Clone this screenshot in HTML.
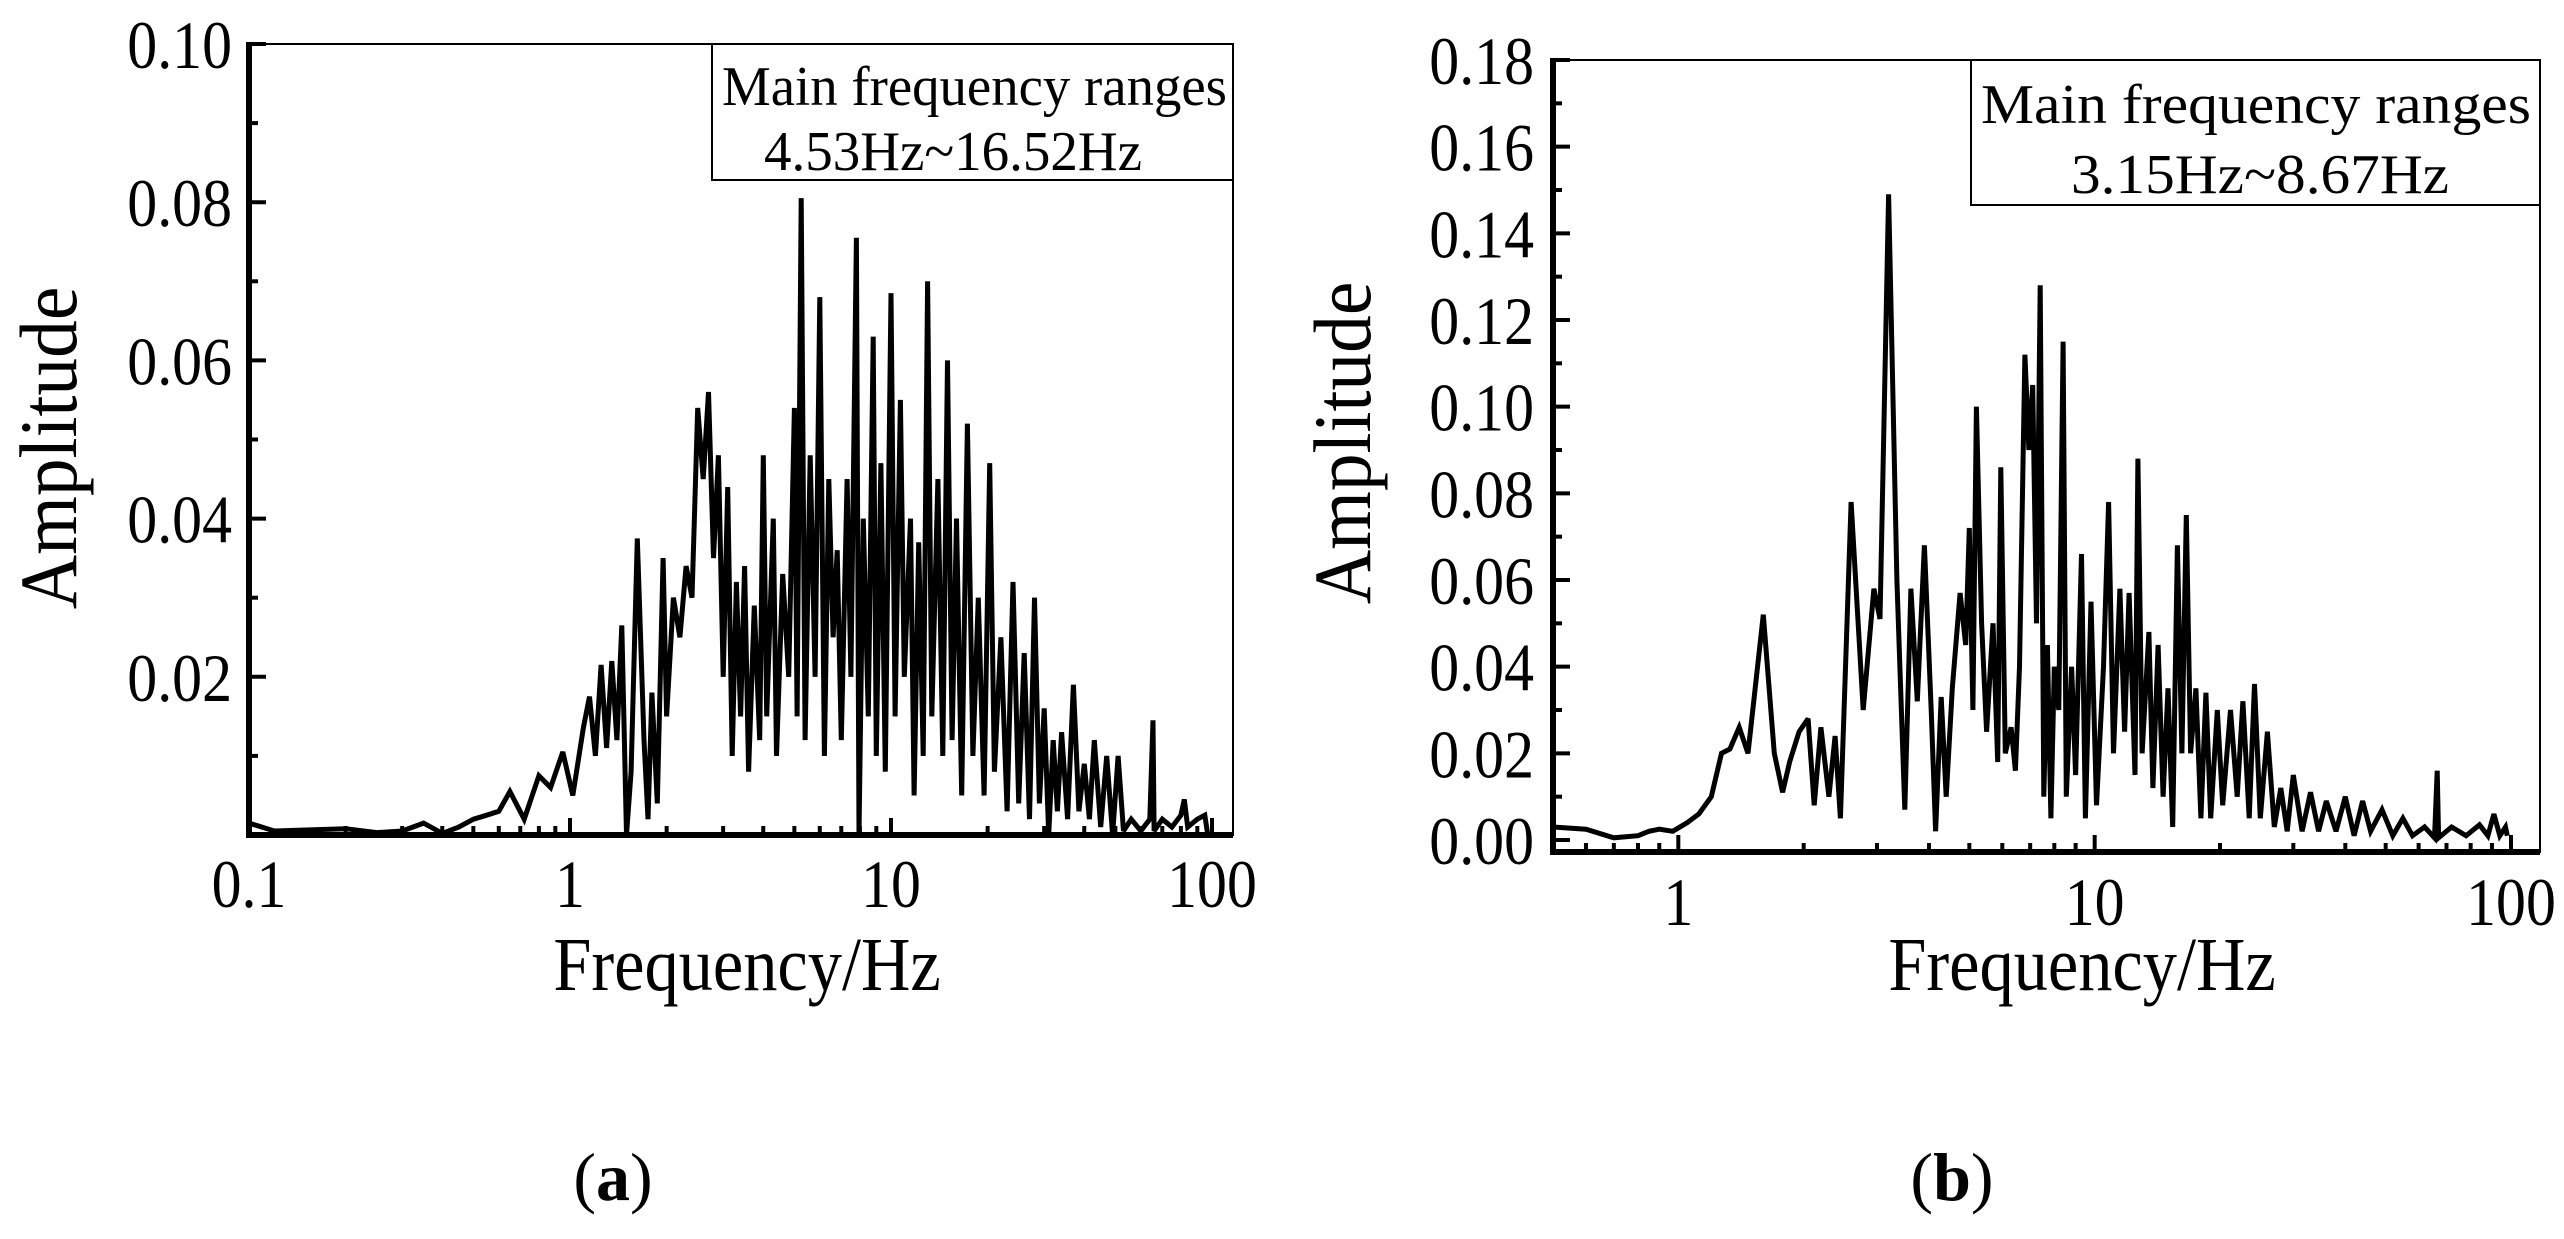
<!DOCTYPE html>
<html><head><meta charset="utf-8"><style>
html,body{margin:0;padding:0;background:#fff;}
svg{display:block;font-family:"Liberation Serif",serif;}
</style></head><body>
<svg id="fig" width="2564" height="1239" viewBox="0 0 2564 1239">
<rect width="2564" height="1239" fill="#fff"/>
<g id="pa"></g>
<g id="pb"></g>
<text x="613" y="1200" font-size="68" text-anchor="middle">(<tspan font-weight="bold">a</tspan>)</text>
<text x="1952" y="1200" font-size="68" text-anchor="middle">(<tspan font-weight="bold">b</tspan>)</text>
</svg>
<script>
const freqA=[0.1,0.12,0.2,0.25,0.3,0.35,0.4,0.45,0.5,0.55,0.6,0.65,0.72,0.8,0.87,0.95,1.02,1.1,1.15,1.2,1.25,1.3,1.35,1.4,1.45,1.5,1.55,1.62,1.7,1.75,1.8,1.87,1.95,2.0,2.1,2.2,2.3,2.4,2.5,2.6,2.7,2.8,2.9,3.0,3.1,3.2,3.3,3.4,3.5,3.6,3.75,3.9,4.0,4.1,4.3,4.4,4.6,4.8,5.0,5.1,5.25,5.4,5.6,5.8,6.0,6.2,6.4,6.6,6.8,7.0,7.3,7.5,7.8,7.95,8.2,8.5,8.8,9.0,9.3,9.6,10.0,10.3,10.7,11.0,11.5,11.8,12.2,12.6,13.0,13.4,14.0,14.5,15.0,15.5,16.0,16.6,17.3,18,18.7,19.5,20.3,21,22,23,24,25,26,27,28,29,30,31,32,33,34,35.5,37,38.5,40,41.5,43,45,47,49,51,53,56,60,64,65.5,66,70,75,80,82,84,90,95,97];
const ampA=[0.0015,0.0005,0.0008,0.0003,0.0005,0.0015,0.0002,0.001,0.002,0.0025,0.003,0.0055,0.002,0.0075,0.006,0.0105,0.005,0.0135,0.0175,0.01,0.0215,0.011,0.022,0.012,0.0265,0.0,0.008,0.0375,0.012,0.002,0.018,0.004,0.035,0.015,0.030,0.025,0.034,0.03,0.054,0.045,0.056,0.035,0.048,0.02,0.044,0.01,0.032,0.015,0.034,0.008,0.029,0.012,0.048,0.015,0.04,0.01,0.033,0.02,0.054,0.015,0.0805,0.012,0.048,0.02,0.068,0.01,0.045,0.025,0.036,0.012,0.045,0.02,0.0755,0.0,0.04,0.015,0.063,0.01,0.047,0.008,0.0685,0.015,0.055,0.02,0.04,0.005,0.037,0.01,0.07,0.015,0.045,0.01,0.06,0.012,0.04,0.005,0.052,0.01,0.03,0.005,0.047,0.008,0.025,0.003,0.032,0.004,0.023,0.002,0.03,0.004,0.016,0.0,0.012,0.003,0.013,0.002,0.019,0.003,0.009,0.002,0.012,0.001,0.01,0.0,0.01,0.0005,0.002,0.0005,0.002,0.0145,0.0005,0.002,0.001,0.0025,0.0045,0.001,0.002,0.0025,0.0];
const freqB=[0.5,0.6,0.7,0.8,0.85,0.9,0.97,1.05,1.12,1.2,1.27,1.33,1.4,1.47,1.6,1.7,1.78,1.85,1.95,2.05,2.12,2.2,2.3,2.38,2.45,2.6,2.78,2.95,3.05,3.2,3.35,3.5,3.62,3.75,3.9,4.05,4.15,4.28,4.4,4.55,4.75,4.9,5.0,5.1,5.2,5.35,5.5,5.7,5.85,5.95,6.1,6.3,6.45,6.6,6.8,6.95,7.1,7.25,7.4,7.55,7.7,7.85,8.0,8.2,8.4,8.55,8.8,9.0,9.3,9.5,9.8,10.1,10.5,10.8,11.1,11.5,11.8,12.1,12.5,12.7,13.0,13.5,13.8,14.2,14.6,15.0,15.4,15.8,16.2,16.6,17.0,17.5,18.0,18.5,19.0,19.7,20.3,21.2,22,22.7,23.5,24.2,25,26,27,28,29,30,31.5,33,34.5,36,38,40,42,44,46,49,52,55,58,62,65.5,66.5,67,72,78,84,88,91,94,97,98];
const ampB=[0.003,0.0025,0.0005,0.001,0.002,0.0025,0.002,0.004,0.006,0.01,0.02,0.021,0.026,0.02,0.052,0.02,0.011,0.018,0.025,0.028,0.008,0.026,0.01,0.024,0.005,0.078,0.03,0.058,0.051,0.149,0.06,0.007,0.058,0.032,0.068,0.03,0.002,0.033,0.01,0.035,0.057,0.045,0.072,0.03,0.1,0.05,0.025,0.05,0.018,0.086,0.02,0.026,0.016,0.04,0.112,0.09,0.105,0.05,0.128,0.01,0.045,0.005,0.04,0.03,0.115,0.01,0.04,0.015,0.066,0.005,0.055,0.008,0.04,0.078,0.02,0.058,0.025,0.057,0.015,0.088,0.02,0.048,0.012,0.045,0.01,0.035,0.003,0.068,0.02,0.075,0.02,0.035,0.005,0.034,0.005,0.03,0.008,0.03,0.01,0.032,0.005,0.036,0.005,0.025,0.003,0.012,0.002,0.015,0.002,0.011,0.002,0.009,0.002,0.01,0.001,0.009,0.002,0.007,0.001,0.005,0.001,0.003,0.0005,0.016,0.0005,0.003,0.001,0.0035,0.001,0.006,0.001,0.003,0.001];
const yTicksA=[0.02,0.04,0.06,0.08,0.10];
const yLabelsA=["0.02","0.04","0.06","0.08","0.10"];
const yTicksB=[0,0.02,0.04,0.06,0.08,0.10,0.12,0.14,0.16,0.18];
const yLabelsB=["0.00","0.02","0.04","0.06","0.08","0.10","0.12","0.14","0.16","0.18"];
const xTicksA=[0.1,1,10,100], xLabelsA=["0.1","1","10","100"];
const xTicksB=[1,10,100], xLabelsB=["1","10","100"];

const NS="http://www.w3.org/2000/svg";
function mk(p,tag,at){const e=document.createElementNS(NS,tag);for(const k in at)e.setAttribute(k,at[k]);p.appendChild(e);return e;}
function txt(p,s,x,y,size,anchor,sx){const g=mk(p,'g',{transform:`translate(${x},${y}) scale(${sx},1)`});const t=mk(g,'text',{x:0,y:0,'font-size':size,'text-anchor':anchor});t.textContent=s;return t;}

function chart(gid,cfg){
  const g=document.getElementById(gid);
  const X=f=>cfg.x1+(Math.log10(f)-Math.log10(cfg.f1))/(Math.log10(cfg.f2)-Math.log10(cfg.f1))*(cfg.x2-cfg.x1);
  const Y=v=>cfg.y0+(cfg.ymaxPx-cfg.y0)*v/cfg.ymax;
  const fr=mk(g,'rect',{x:cfg.L,y:cfg.T,width:cfg.R-cfg.L,height:cfg.B-cfg.T,fill:'none',stroke:'#000','stroke-width':2});
  
  mk(g,'line',{x1:cfg.L,y1:cfg.T-2,x2:cfg.L,y2:cfg.B+3,stroke:'#000','stroke-width':6});
  mk(g,'line',{x1:cfg.L-3,y1:cfg.B,x2:cfg.R,y2:cfg.B,stroke:'#000','stroke-width':6});
  cfg.yt.forEach((v,i)=>{const y=Y(v);mk(g,'line',{x1:cfg.L,y1:y,x2:cfg.L+17,y2:y,stroke:'#000','stroke-width':4});
    const t=txt(g,cfg.yl[i],cfg.ylx,y+24,68,'end',0.88);});
  for(let k=1;k<Math.round(cfg.ymax/0.01);k+=2){const y=Y(k*0.01);mk(g,'line',{x1:cfg.L,y1:y,x2:cfg.L+9,y2:y,stroke:'#000','stroke-width':4});}
  cfg.xt.forEach((f,i)=>{const x=X(f);mk(g,'line',{x1:x,y1:cfg.B,x2:x,y2:cfg.B-17,stroke:'#000','stroke-width':4});
    const t=txt(g,cfg.xl[i],x,cfg.xly,68,'middle',0.88);});
  for(let d=0.1;d<100;d*=10){for(let k=2;k<=9;k++){const f=d*k;if(f<cfg.f1||f>cfg.f2)continue;const x=X(f);mk(g,'line',{x1:x,y1:cfg.B,x2:x,y2:cfg.B-9,stroke:'#000','stroke-width':4});}}
  let dstr='';cfg.fx.forEach((f,i)=>{dstr+=(i?'L':'M')+X(f).toFixed(1)+','+Y(cfg.ay[i]).toFixed(1);});
  const p=mk(g,'path',{d:dstr,fill:'none',stroke:'#000','stroke-width':5,'stroke-linejoin':'miter','stroke-miterlimit':3});
  
  const xt=txt(g,'Frequency/Hz',cfg.xtx,990,76,'middle',0.9);
  const yg=mk(g,'g',{transform:`translate(${cfg.ytx},${cfg.yty}) rotate(-90) scale(0.92,1)`});
  const yt=mk(yg,'text',{x:0,y:0,'font-size':82,'text-anchor':'middle'});yt.textContent='Amplitude';
  
  const lb=mk(g,'rect',{x:cfg.lgx,y:cfg.T,width:cfg.R-cfg.lgx,height:cfg.lgh,fill:'#fff',stroke:'#000','stroke-width':2});
  
  const l1=mk(g,'text',{x:cfg.l1x,y:cfg.l1y,'font-size':56,textLength:cfg.l1w,lengthAdjust:'spacingAndGlyphs'});l1.textContent='Main frequency ranges';
  
  const l2=mk(g,'text',{x:cfg.l2x,y:cfg.l2y,'font-size':56,textLength:cfg.l2w,lengthAdjust:'spacingAndGlyphs'});l2.textContent=cfg.l2;
  
}
chart('pa',{L:249,R:1233,T:44,B:835,x1:249,x2:1212,f1:0.1,f2:100,y0:835,ymaxPx:44,ymax:0.10,
  yt:yTicksA,yl:yLabelsA,ylx:232,xt:xTicksA,xl:xLabelsA,xly:907,fx:freqA,ay:ampA,xtx:747,ytx:76,yty:448,
  lgx:712,lgh:136,l1x:722,l1y:105,l1w:505,l2x:764,l2y:170,l2w:378,l2:'4.53Hz~16.52Hz'});
chart('pb',{L:1553,R:2540,T:60,B:852,x1:1553,x2:2511,f1:0.5,f2:100,y0:840,ymaxPx:60,ymax:0.18,
  yt:yTicksB,yl:yLabelsB,ylx:1534,xt:xTicksB,xl:xLabelsB,xly:925,fx:freqB,ay:ampB,xtx:2082,ytx:1370,yty:443,
  lgx:1971,lgh:145,l1x:1981,l1y:123,l1w:550,l2x:2071,l2y:193,l2w:378,l2:'3.15Hz~8.67Hz'});
</script>
</body></html>
